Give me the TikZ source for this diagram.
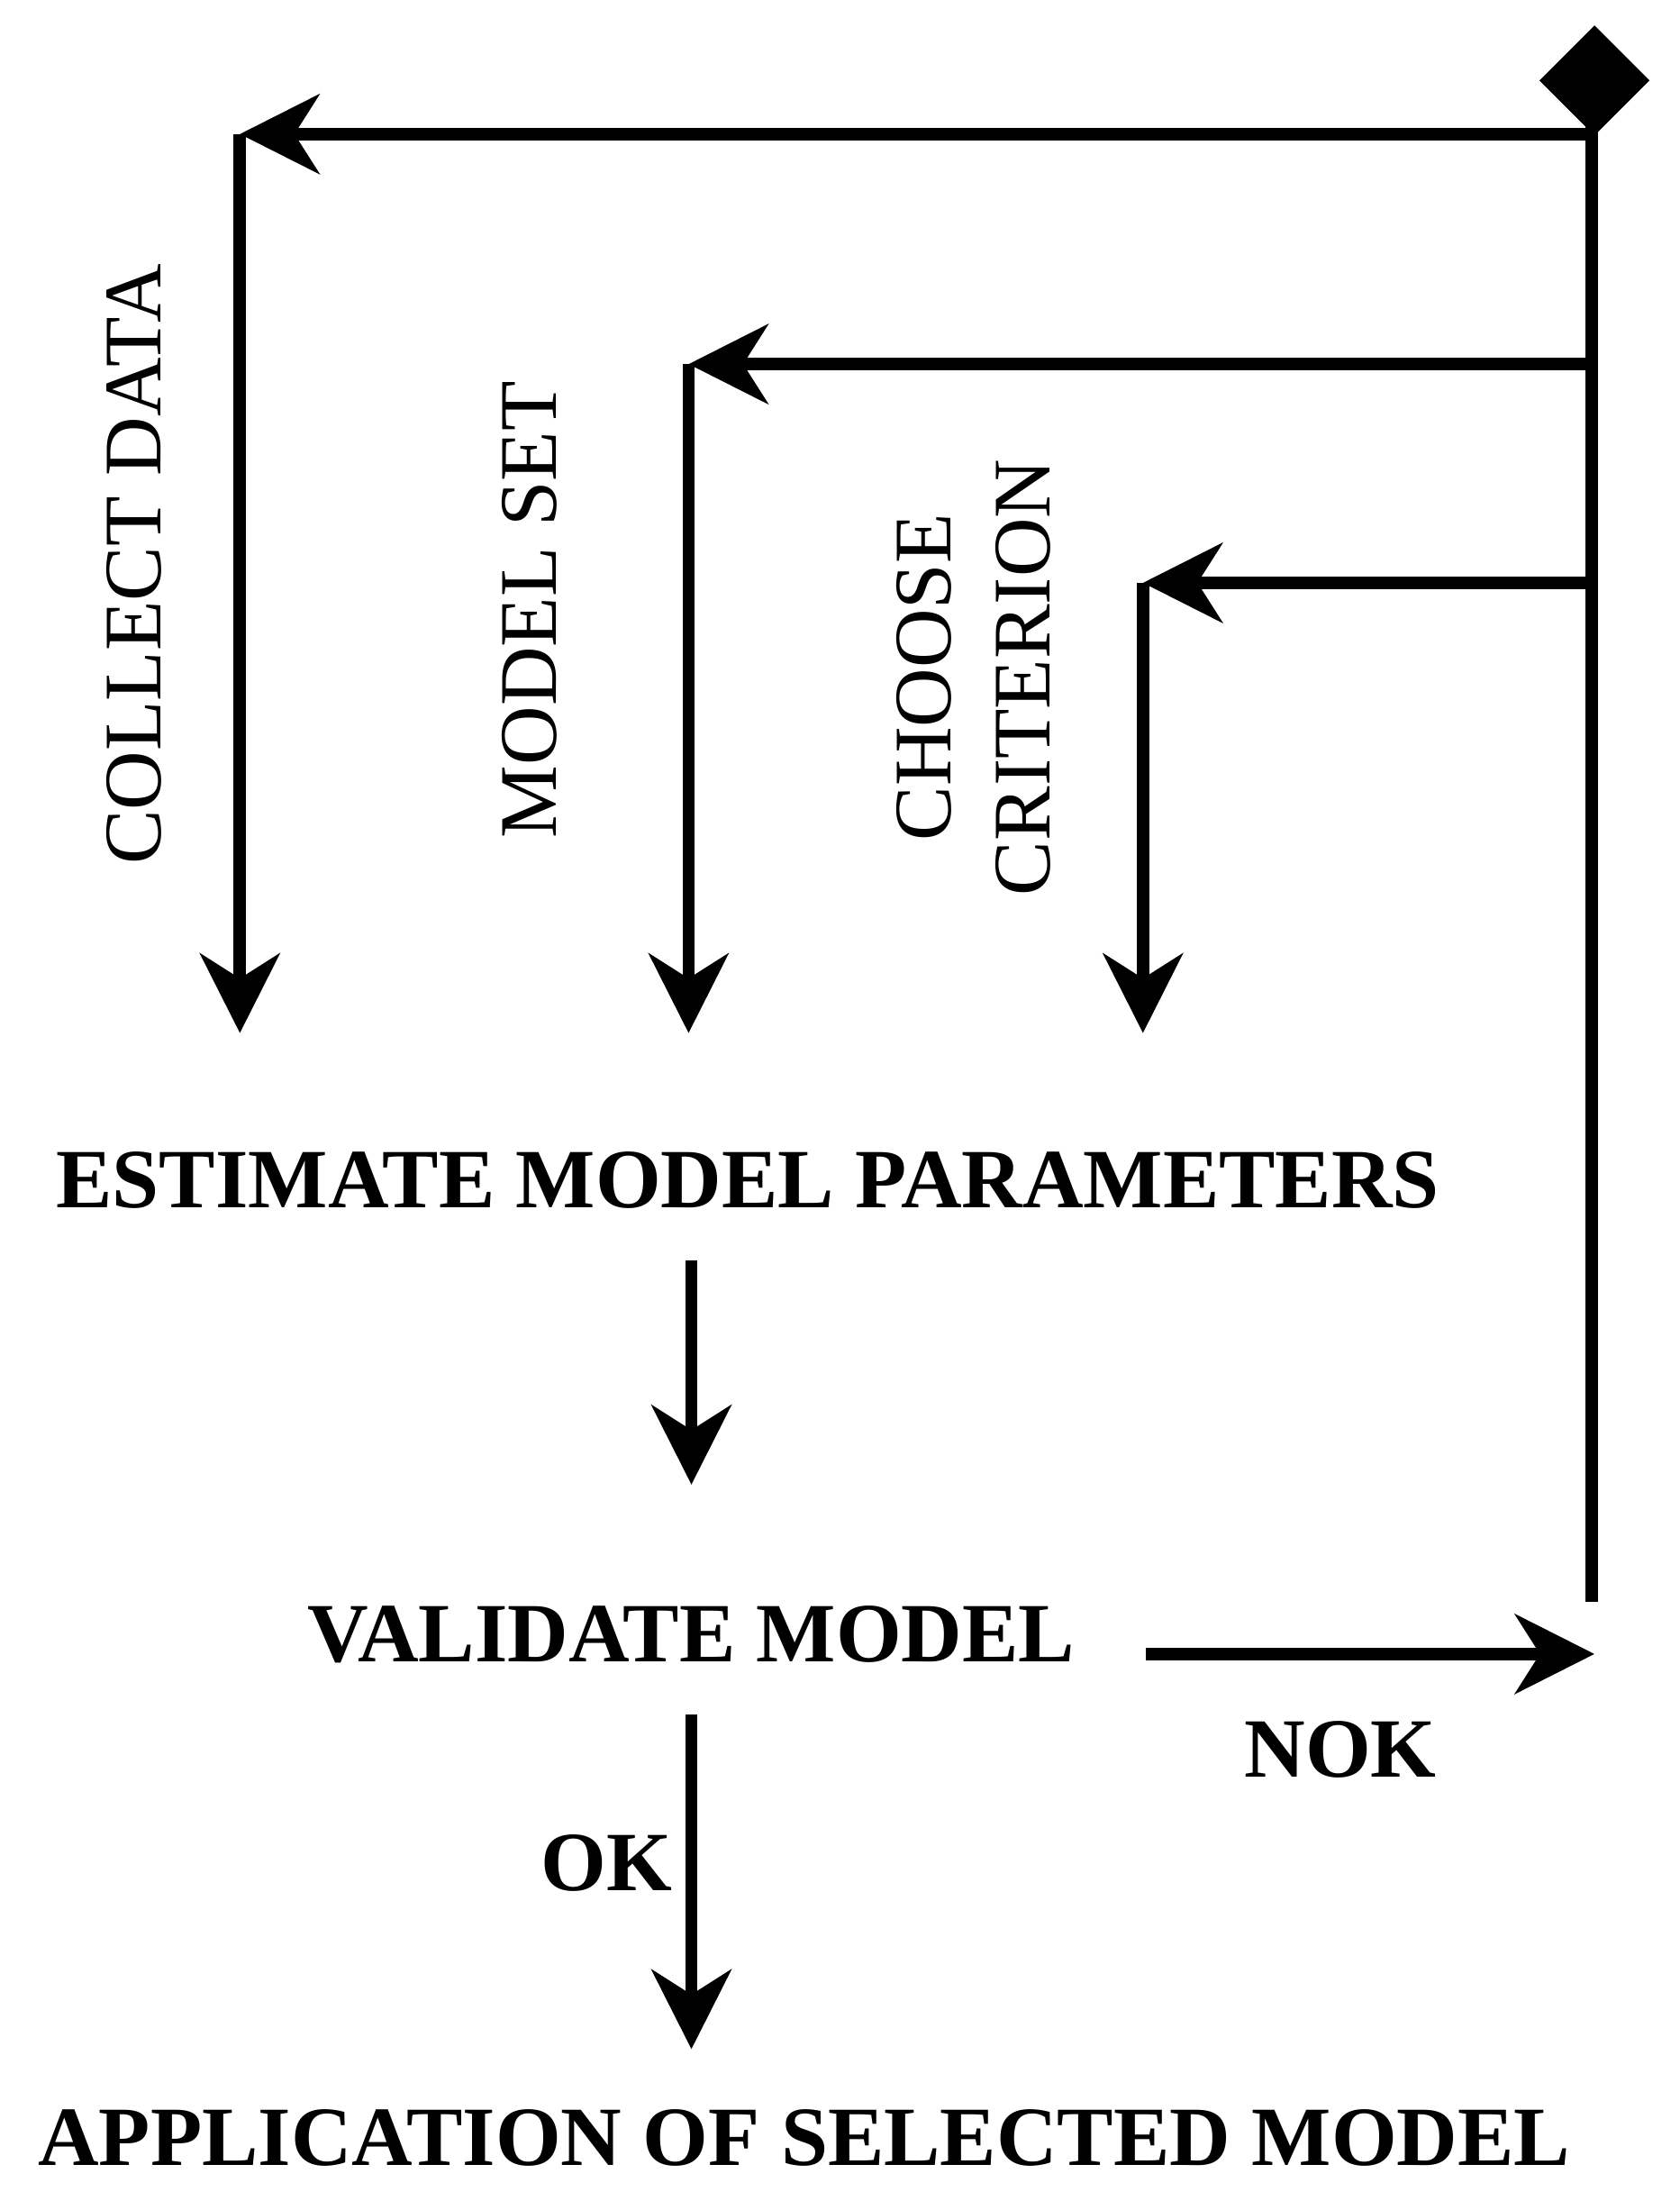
\documentclass[tikz,border=0pt]{standalone}
\usepackage{fontspec}
\setmainfont{Liberation Serif}
\usetikzlibrary{arrows.meta}
\begin{document}
\begin{tikzpicture}[x=0.02cm,y=-0.02cm,
  ln/.style={line width=5pt},
  ar/.style={ln,-{Stealth[length=32pt,width=32pt,inset=10pt]}},
  bt/.style={font=\fontsize{34}{40}\selectfont\bfseries,inner sep=0},
  rt/.style={font=\fontsize{33}{40}\selectfont,inner sep=0,rotate=90,align=center}]
\useasboundingbox (0,0) rectangle (1190,1566);
\node[fill=black,draw=black,minimum size=31pt,rotate=45,inner sep=0] (dia) at (1130,57) {};
\coordinate (t1) at (1128,95);
\coordinate (t2) at (1128,258);
\coordinate (t3) at (1128,413);
\coordinate (bot) at (1128,1135);
\coordinate (c1) at (170,95);
\coordinate (c2) at (488,258);
\coordinate (c3) at (810,413);
\coordinate (e1) at (170,732);
\coordinate (e2) at (488,732);
\coordinate (e3) at (810,732);
\draw[ln] (1128,70) -- (bot);
\draw[ar] (t1) -- (c1);
\draw[ar] (t2) -- (c2);
\draw[ar] (t3) -- (c3);
\draw[ar] (c1) -- (e1);
\draw[ar] (c2) -- (e2);
\draw[ar] (c3) -- (e3);
\node[rt] (cd) at (95,400) {COLLECT DATA};
\node[rt] (ms) at (375,432) {MODEL SET};
\node[rt] (cc) at (690,480) {CHOOSE\\CRITERION};
\node[bt] (est) at (530,836) {ESTIMATE MODEL PARAMETERS};
\node[bt] (val) at (490,1158) {VALIDATE MODEL};
\node[bt] (app) at (570,1515) {APPLICATION OF SELECTED MODEL};
\coordinate (nokE) at (1130,1172);
\coordinate (nokS) at (812,1172);
\draw[ar] (490,893) -- (490,1052);
\draw[ar] (nokS) -- (nokE);
\draw[ar] (490,1215) -- (490,1452);
\node[bt] (nok) at (950,1240) {NOK};
\node[bt] (ok) at (430,1320) {OK};
\end{tikzpicture}
\end{document}
